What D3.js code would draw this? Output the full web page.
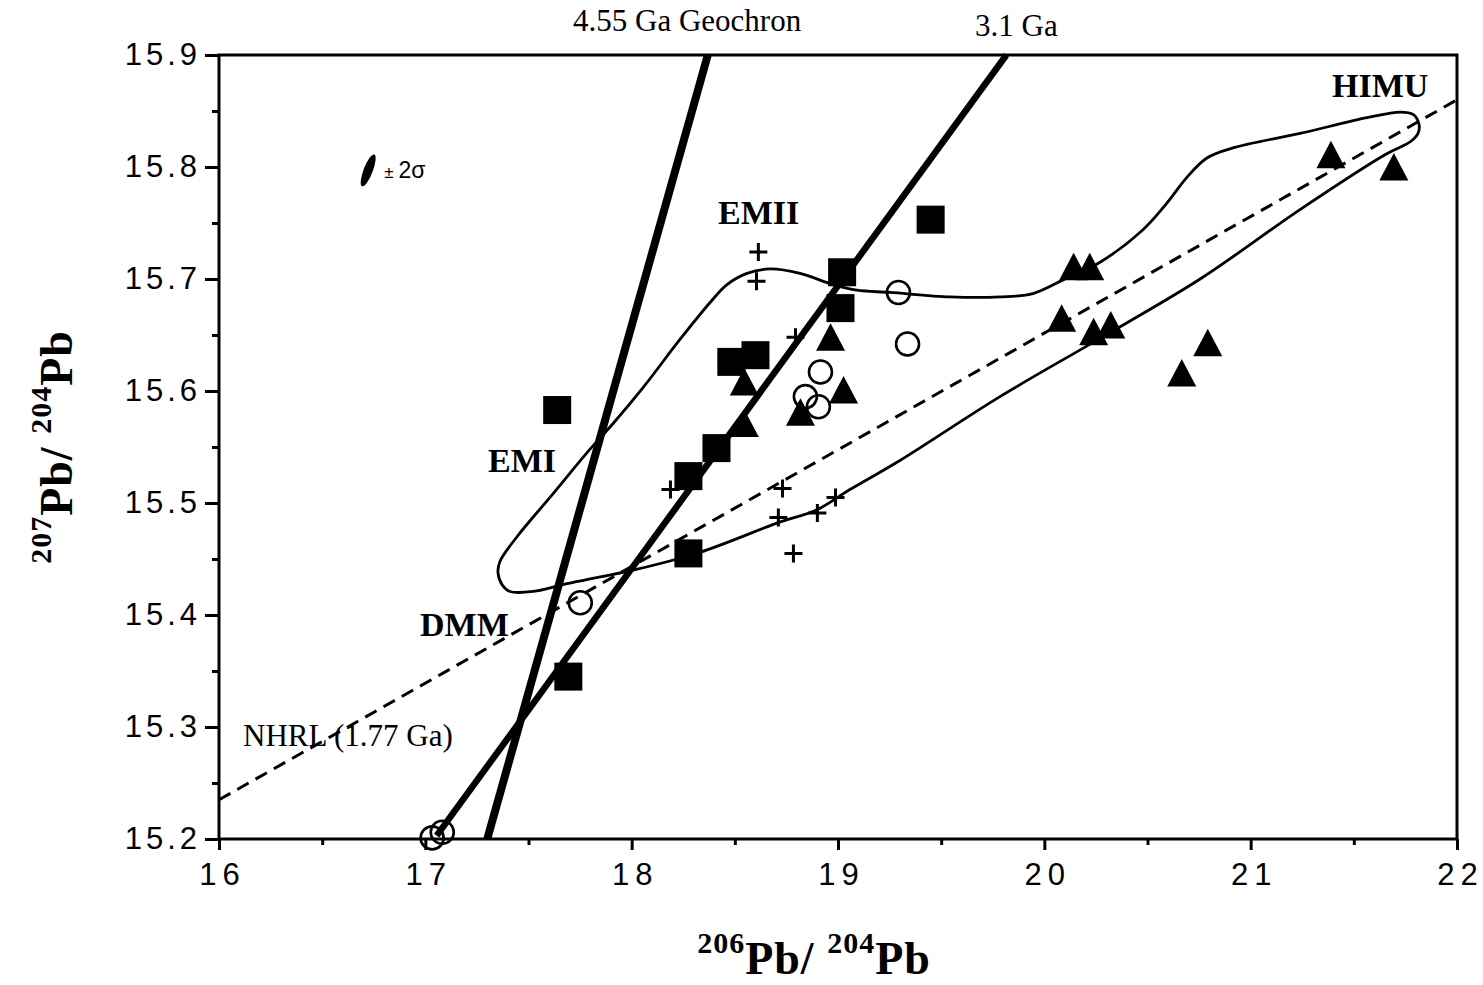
<!DOCTYPE html>
<html><head><meta charset="utf-8">
<script src="https://cdn.jsdelivr.net/npm/d3@7"></script>
<style>
html,body{margin:0;padding:0;background:#fff;}
svg{display:block;}
</style></head><body>
<svg id="chart" width="1483" height="985"></svg>
<script>
// Axis ticks
const xTicks = [16, 17, 18, 19, 20, 21, 22];
const xMinor = [16.5, 17.5, 18.5, 19.5, 20.5, 21.5];
const yTicks = [15.2, 15.3, 15.4, 15.5, 15.6, 15.7, 15.8, 15.9];
const yMinor = [15.25, 15.35, 15.45, 15.55, 15.65, 15.75, 15.85];

// Samples: 206Pb/204Pb, 207Pb/204Pb
const squares = [
  [17.639, 15.583], [17.693, 15.345], [18.275, 15.455], [18.275, 15.524],
  [18.411, 15.549], [18.483, 15.626], [18.600, 15.632], [19.020, 15.706],
  [19.012, 15.674], [19.449, 15.753]
];
const triangles = [
  [18.546, 15.608], [18.546, 15.571], [18.964, 15.648], [19.027, 15.601],
  [18.818, 15.581], [20.142, 15.711], [20.220, 15.711], [20.084, 15.665],
  [20.239, 15.653], [20.322, 15.659], [20.792, 15.643], [20.666, 15.616],
  [21.389, 15.811], [21.694, 15.800]
];
const circles = [
  [19.293, 15.688], [19.337, 15.642], [18.915, 15.617], [18.842, 15.595],
  [18.905, 15.586], [17.751, 15.411], [17.033, 15.201], [17.082, 15.206]
];
const crosses = [
  [18.614, 15.724], [18.605, 15.698], [18.794, 15.648], [18.188, 15.512],
  [18.731, 15.513], [18.711, 15.487], [18.900, 15.491], [18.988, 15.505],
  [18.784, 15.455]
];

// Reference lines (end points)
const geochron = [[17.30, 15.2], [18.369, 15.9]];
const isochron31 = [[17.055, 15.203], [19.816, 15.9]];
const nhrl = [[16, 15.235], [22, 15.860]];

// Mantle end-member field outline (EMI – EMII – DMM – HIMU)
const field = [
  [17.352, 15.438], [17.362, 15.448], [17.449, 15.471], [17.604, 15.505],
  [17.784, 15.545], [17.910, 15.571], [18.055, 15.603], [18.234, 15.646],
  [18.380, 15.679], [18.462, 15.695], [18.559, 15.705], [18.670, 15.709],
  [18.816, 15.705], [18.976, 15.695], [19.092, 15.690], [19.252, 15.688],
  [19.543, 15.684], [19.785, 15.684], [19.945, 15.687], [20.110, 15.701],
  [20.270, 15.715], [20.478, 15.744], [20.595, 15.768], [20.692, 15.791],
  [20.788, 15.808], [20.914, 15.817], [21.239, 15.830], [21.564, 15.844],
  [21.724, 15.849], [21.787, 15.847], [21.816, 15.838], [21.811, 15.830],
  [21.777, 15.823], [21.651, 15.811], [21.239, 15.762], [20.755, 15.700],
  [20.270, 15.647], [19.785, 15.595], [19.300, 15.538], [19.058, 15.512],
  [18.898, 15.494], [18.704, 15.482], [18.331, 15.456], [18.007, 15.440],
  [17.847, 15.434], [17.687, 15.428], [17.522, 15.421], [17.410, 15.421],
  [17.372, 15.427]
];

const svg = d3.select("#chart");
const x = d3.scaleLinear().domain([16, 22]).range([219, 1457]);
const y = d3.scaleLinear().domain([15.2, 15.9]).range([839, 55]);

const serif = "'Liberation Serif','Times New Roman',serif";
const sans = "'Liberation Sans',Arial,sans-serif";

// Field outline
svg.append("path")
  .datum(field)
  .attr("d", d3.line().x(d => x(d[0])).y(d => y(d[1])).curve(d3.curveCatmullRomClosed.alpha(0.5)))
  .attr("fill", "none").attr("stroke", "#000").attr("stroke-width", 2.8);

// NHRL dashed
svg.append("line")
  .attr("x1", x(nhrl[0][0])).attr("y1", y(nhrl[0][1]))
  .attr("x2", x(nhrl[1][0])).attr("y2", y(nhrl[1][1]))
  .attr("stroke", "#000").attr("stroke-width", 3).attr("stroke-dasharray", "13,8");

// Isochrons
svg.append("line")
  .attr("x1", x(geochron[0][0])).attr("y1", y(geochron[0][1]))
  .attr("x2", x(geochron[1][0])).attr("y2", y(geochron[1][1]))
  .attr("stroke", "#000").attr("stroke-width", 8);
svg.append("line")
  .attr("x1", x(isochron31[0][0])).attr("y1", y(isochron31[0][1]))
  .attr("x2", x(isochron31[1][0])).attr("y2", y(isochron31[1][1]))
  .attr("stroke", "#000").attr("stroke-width", 6.5);

// Axes
const gx = svg.append("g").attr("transform", "translate(0,839)");
gx.call(d3.axisBottom(x).tickValues(xTicks).tickSize(11).tickPadding(13).tickSizeOuter(0).tickFormat(d3.format("d")));
const gxm = svg.append("g").attr("transform", "translate(0,839)");
gxm.call(d3.axisBottom(x).tickValues(xMinor).tickSize(6).tickFormat("").tickSizeOuter(0));
const gy = svg.append("g").attr("transform", "translate(219,0)");
gy.call(d3.axisLeft(y).tickValues(yTicks).tickSize(14).tickPadding(4).tickSizeOuter(0).tickFormat(d3.format(".1f")));
const gym = svg.append("g").attr("transform", "translate(219,0)");
gym.call(d3.axisLeft(y).tickValues(yMinor).tickSize(7).tickFormat("").tickSizeOuter(0));

svg.selectAll(".domain").remove();
svg.selectAll(".tick line").attr("stroke", "#000").attr("stroke-width", 3);
gx.selectAll("text").attr("font-family", sans).attr("font-size", 31)
  .attr("letter-spacing", 6).attr("dx", 3).attr("fill", "#000");
gy.selectAll("text").attr("font-family", sans).attr("font-size", 31)
  .attr("letter-spacing", 4).attr("fill", "#000");

// Frame
svg.append("rect").attr("x", 219).attr("y", 55).attr("width", 1457 - 219).attr("height", 839 - 55)
  .attr("fill", "none").attr("stroke", "#000").attr("stroke-width", 3);

// Markers
svg.append("g").selectAll("rect").data(squares).join("rect")
  .attr("x", d => x(d[0]) - 14).attr("y", d => y(d[1]) - 14)
  .attr("width", 28).attr("height", 28).attr("fill", "#000");
svg.append("g").selectAll("path").data(triangles).join("path")
  .attr("transform", d => `translate(${x(d[0])},${y(d[1])})`)
  .attr("d", "M0,-14L14.5,13.5L-14.5,13.5Z").attr("fill", "#000");
svg.append("g").selectAll("circle").data(circles).join("circle")
  .attr("cx", d => x(d[0])).attr("cy", d => y(d[1])).attr("r", 11.5)
  .attr("fill", "none").attr("stroke", "#000").attr("stroke-width", 2.6);
svg.append("g").selectAll("path").data(crosses).join("path")
  .attr("transform", d => `translate(${x(d[0])},${y(d[1])})`)
  .attr("d", "M-9,0H9M0,-9V9").attr("stroke", "#000").attr("stroke-width", 3);

// Analytical uncertainty ellipse
const sig = svg.append("g").attr("transform", `translate(${x(16.723)},${y(15.797)})`);
sig.append("ellipse").attr("rx", 17).attr("ry", 4.6).attr("transform", "rotate(-69)").attr("fill", "#000");
sig.append("text").attr("x", 16).attr("y", 8).attr("font-family", sans).attr("font-size", 23)
  .call(t => { t.append("tspan").attr("font-size", 17).text("±"); t.append("tspan").attr("dx", 5).text("2σ"); });

// Annotations
const note = (txt, px, py, size, bold) => svg.append("text").attr("x", px).attr("y", py)
  .attr("font-family", serif).attr("font-size", size).attr("font-weight", bold ? "bold" : "normal")
  .attr("fill", "#000").text(txt);
note("4.55 Ga Geochron", 573, 31, 31, false);
note("3.1 Ga", 975, 36, 31, false);
note("HIMU", 1332, 97, 34, true);
note("EMII", 718, 224, 34, true);
note("EMI", 488, 472, 34, true);
note("DMM", 420, 636, 34, true);
note("NHRL (1.77 Ga)", 243, 746, 31, false);

// Axis titles
function isoLabel(sel, a, b) {
  sel.attr("font-family", serif).attr("font-weight", "bold").attr("fill", "#000").attr("text-anchor", "middle");
  sel.append("tspan").attr("font-size", 30).attr("dy", -21).text(a);
  sel.append("tspan").attr("font-size", 46).attr("dy", 21).text("Pb/ ");
  sel.append("tspan").attr("font-size", 30).attr("dy", -21).text(b);
  sel.append("tspan").attr("font-size", 46).attr("dy", 21).text("Pb");
}
svg.append("text").attr("x", 814).attr("y", 974).attr("letter-spacing", 1).call(isoLabel, "206", "204");
svg.append("text").attr("transform", "translate(72,447) rotate(-90)").attr("letter-spacing", 1).call(isoLabel, "207", "204");
</script>
</body></html>
